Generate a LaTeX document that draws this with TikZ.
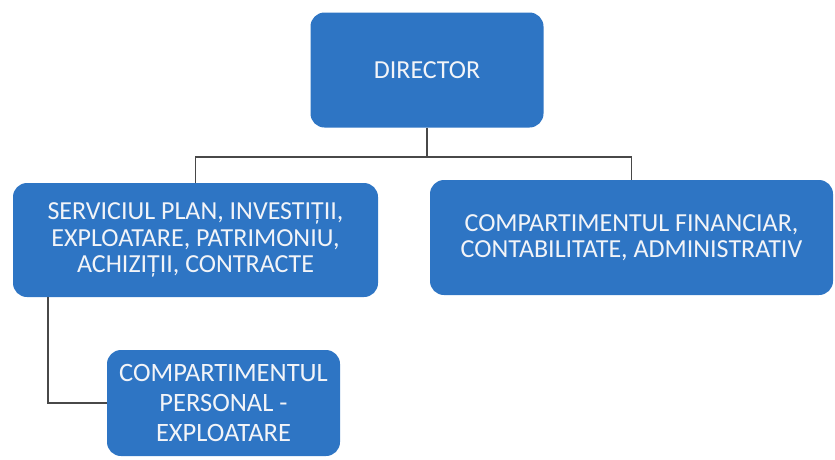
\documentclass[tikz,border=0pt]{standalone}
\usepackage{fontspec}
\setmainfont{Carlito}
\usepackage{xcolor}
\usepackage{tikz}
\usetikzlibrary{positioning}

\definecolor{boxblue}{RGB}{46,117,196}
\definecolor{boxtext}{RGB}{242,244,248}
\definecolor{linegray}{RGB}{72,72,72}

\begin{document}
\begin{tikzpicture}[x=1pt, y=-1pt,
    box/.style={fill=boxblue, rounded corners=14pt, text=boxtext, align=center, inner sep=0pt},
    link/.style={draw=linegray, line width=1.6pt}]
    % Cadrul imaginii
    \useasboundingbox (0,0) rectangle (835,459);

    % Casetele organigramei
    \node[box, minimum width=233pt, minimum height=115pt, font=\fontsize{26}{26}\selectfont] (director) at (427,70) {DIRECTOR};
    \node[box, minimum width=365pt, minimum height=114pt, font=\fontsize{26}{26.5}\selectfont] (serviciu) at (195.5,240)
        {SERVICIUL PLAN, INVESTIȚII,\\EXPLOATARE, PATRIMONIU,\\ACHIZIȚII, CONTRACTE};
    \node[box, minimum width=403pt, minimum height=115pt, font=\fontsize{26}{26}\selectfont] (financiar) at (631.5,237.5)
        {COMPARTIMENTUL FINANCIAR,\\CONTABILITATE, ADMINISTRATIV};
    \node[box, minimum width=233pt, minimum height=106pt, font=\fontsize{26.5}{30}\selectfont] (personal) at (223.5,403)
        {COMPARTIMENTUL\\PERSONAL -\\EXPLOATARE};

    % Legăturile dintre casete
    \draw[link] (director.south) -- ++(0,29) coordinate (nod);
    \draw[link] (serviciu.north) |- (nod) -| (financiar.north);
    \draw[link] (serviciu.south west) ++(35,0) |- (personal.west);
\end{tikzpicture}
\end{document}
